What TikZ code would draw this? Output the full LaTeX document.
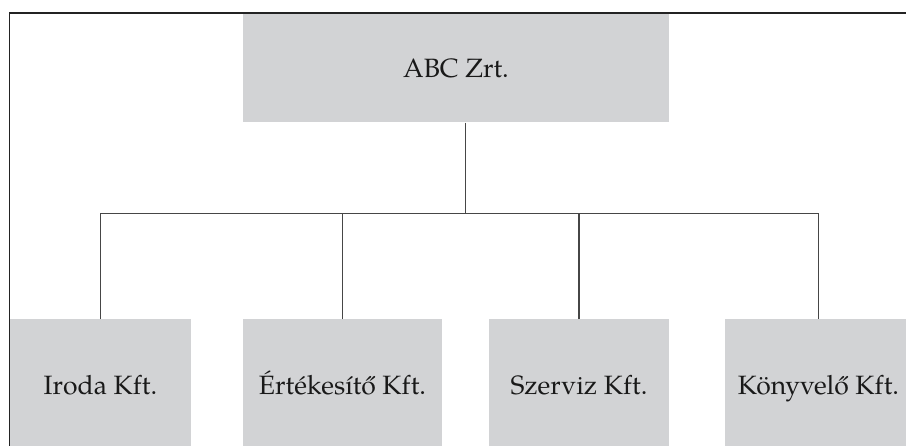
\documentclass[tikz,border=0pt]{standalone}
\usepackage{fontspec}
\setmainfont{TeX Gyre Pagella}
\definecolor{boxgray}{RGB}{210,211,213}
\definecolor{linegray}{RGB}{70,70,70}
\definecolor{framegray}{RGB}{35,35,35}
\tikzset{
  orgbox/.style={fill=boxgray, draw=none, inner sep=0pt, align=center,
    font=\fontsize{26.5}{30}\selectfont, text=black!90},
  topbox/.style={orgbox, minimum width=426pt, minimum height=109.5pt,
    text height=19.1pt, text depth=0pt},
  subbox/.style={orgbox, minimum height=126.7pt,
    text height=23.7pt, text depth=0pt},
  conn/.style={draw=linegray, line width=1.3pt},
  frameline/.style={draw=framegray, line width=1.8pt}
}
\begin{document}
\begin{tikzpicture}[x=1pt, y=-1pt]
\useasboundingbox (0,0) rectangle (906,446);
\fill[white] (0,0) rectangle (906,446);
% boxes
\node[topbox] (top) at (456,67.75) {ABC Zrt.};
\node[subbox, minimum width=181pt] (c1) at (100.5,382.65) {Iroda Kft.};
\node[subbox, minimum width=199pt] (c2) at (342.5,382.65) {Értékesítő Kft.};
\node[subbox, minimum width=180pt] (c3) at (579,382.65) {Szerviz Kft.};
\node[subbox, minimum width=188pt] (c4) at (818.5,382.65) {Könyvelő Kft.};
% connectors
\coordinate (bus) at (465.7,213.3);
\draw[conn] (bus |- top.south) -- (bus);
\draw[conn] (c1.north) -- (c1.north |- bus) -- (c4.north |- bus) -- (c4.north);
\draw[conn] (c2.north) -- (c2.north |- bus);
\draw[conn] (c3.north) -- (c3.north |- bus);
% frame
\draw[frameline] (9.5,446) -- (9.5,13) -- (906,13);
\end{tikzpicture}
\end{document}
